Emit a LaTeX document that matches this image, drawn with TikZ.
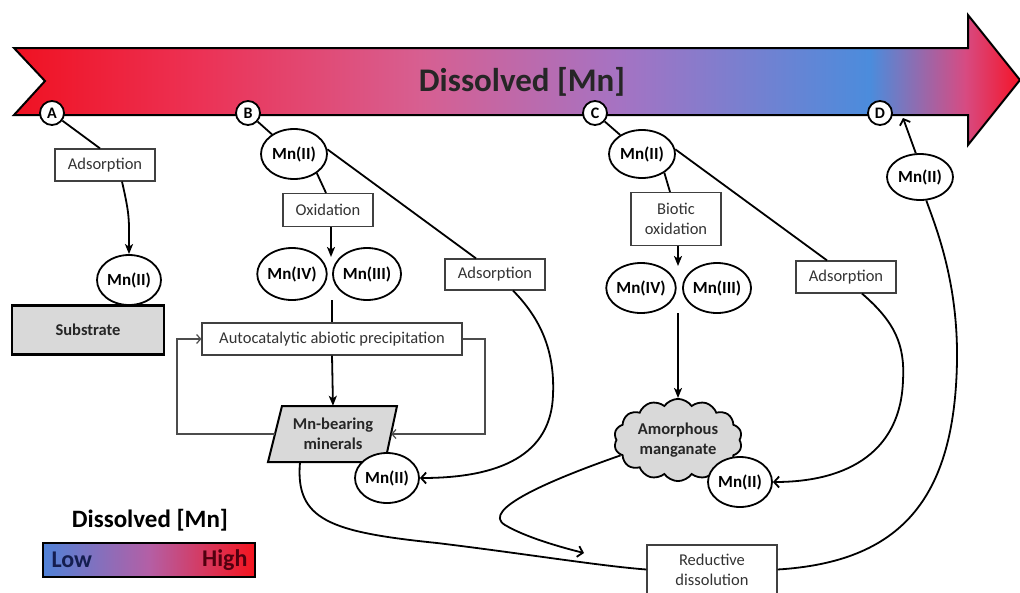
\documentclass[tikz,border=0pt]{standalone}
\usepackage{fontspec}
\setmainfont{Carlito}
\usetikzlibrary{arrows.meta,shapes.geometric,shapes.symbols,calc}
\definecolor{g0}{RGB}{240,15,30}
\definecolor{g1}{RGB}{236,50,85}
\definecolor{g2}{RGB}{215,95,145}
\definecolor{g3}{RGB}{165,115,195}
\definecolor{g4}{RGB}{75,140,220}
\definecolor{g5}{RGB}{215,75,130}
\definecolor{g6}{RGB}{245,20,40}
\definecolor{lb}{RGB}{80,130,215}
\definecolor{lm}{RGB}{180,95,165}
\definecolor{lr}{RGB}{245,20,30}
\definecolor{fillg}{RGB}{217,217,217}
\begin{document}
\begin{tikzpicture}[x=1pt,y=-1pt,
  box/.style={draw=black!75, line width=1.2pt, fill=white, text=black!80, font=\fontsize{16.5}{20}\selectfont, inner sep=2pt, align=center},
  ell/.style={ellipse, draw, line width=1.8pt, fill=white, inner sep=0pt, minimum width=64pt, minimum height=50pt, font=\bfseries\fontsize{17}{19}\selectfont},
  circ/.style={circle, draw, line width=1.8pt, fill=white, minimum size=24pt, inner sep=0pt, font=\bfseries\fontsize{16}{17}\selectfont},
  conn/.style={line width=1.8pt},
  arr/.style={line width=1.8pt, -{Stealth[length=10pt,width=8pt,inset=2.5pt]}},
  barb/.style={line width=1.8pt, -{Straight Barb[length=5pt,width=11pt]}},
  fb/.style={line width=1.2pt, draw=black!70, -{Straight Barb[length=4pt,width=9pt]}},
]
\useasboundingbox (0,0) rectangle (1020,592);

% ---- main gradient arrow ----
\begin{scope}
\clip (14,48) -- (968,48) -- (968,15) -- (1020,80) -- (968,145) -- (968,115) -- (14,115) -- (45,81) -- cycle;
\shade[left color=g0, right color=g1] (0,0) rectangle (200.5,150);
\shade[left color=g1, right color=g2] (200,0) rectangle (420.5,150);
\shade[left color=g2, right color=g3] (420,0) rectangle (620.5,150);
\shade[left color=g3, right color=g4] (620,0) rectangle (870.5,150);
\shade[left color=g4, right color=g5] (870,0) rectangle (965.5,150);
\shade[left color=g5, right color=g6] (965,0) rectangle (1020,150);
\end{scope}
\draw[line width=2pt, line join=miter] (14,48) -- (968,48) -- (968,15) -- (1020,80) -- (968,145) -- (968,115) -- (14,115) -- (45,81) -- cycle;
\node[font=\bfseries\fontsize{33}{36}\selectfont, text=black!85] (title) at (522,82) {Dissolved [Mn]};

% ---- nodes ----
\node[circ] (A) at (52,113) {A};
\node[circ] (B) at (248,113) {B};
\node[circ] (C) at (595,113) {C};
\node[circ] (D) at (880,113) {D};
\coordinate (Dtip) at (903,118);

% column A
\node[box, minimum width=100pt, minimum height=32pt] (adsA) at (105,165) {Adsorption};
\node[ell] (mnA) at (129,280) {Mn(II)};
\node[draw, line width=2.2pt, fill=fillg, minimum width=152pt, minimum height=49pt, font=\bfseries\fontsize{16.5}{20}\selectfont, text=black!85] (sub) at (88,330) {Substrate};

% column B
\node[ell, minimum width=66pt] (mnB) at (294,154) {Mn(II)};
\node[box, minimum width=90pt, minimum height=33pt] (oxB) at (328,210) {Oxidation};
\node[ell, minimum width=60pt, minimum height=52pt] (m4B) at (292,274) {Mn(IV)};
\node[ell, minimum width=64pt, minimum height=52pt] (m3B) at (367,274) {Mn(III)};
\coordinate (jB) at (331,257);
\coordinate (jB2) at (332,300);
\node[box, minimum width=260pt, minimum height=32pt] (auto) at (332,339) {Autocatalytic abiotic precipitation};
\draw[line width=2pt, fill=fillg] (282,406) -- (397,406) -- (385,462) -- (268,462) -- cycle;
\node[minimum width=116pt, minimum height=56pt, inner sep=0pt, align=center, font=\bfseries\fontsize{16.5}{20}\selectfont, text=black!85] (min) at (333,434) {Mn-bearing\\minerals};
\node[box, minimum width=100pt, minimum height=31pt] (adsB) at (495,274.5) {Adsorption};
\node[ell] (mnB2) at (387,478) {Mn(II)};
\coordinate (fbR) at (485,434);
\coordinate (fbL) at (177,339);

% column C
\node[ell, minimum width=66pt, minimum height=48pt] (mnC) at (642,154) {Mn(II)};
\node[box, minimum width=90pt, minimum height=53pt] (bioC) at (676,219) {Biotic\\oxidation};
\node[ell] (m4C) at (641,288) {Mn(IV)};
\node[ell, minimum width=66pt] (m3C) at (717,288) {Mn(III)};
\coordinate (jC) at (678,266);
\coordinate (jC2) at (678,313);
\node[cloud, cloud puffs=14, cloud puff arc=110, aspect=1.6, draw, line width=1.8pt, fill=fillg, minimum width=128pt, minimum height=80pt, inner sep=0pt, align=center, font=\bfseries\fontsize{16.5}{20}\selectfont, text=black!85] (cloud) at (678,440) {Amorphous\\manganate};
\node[box, minimum width=100pt, minimum height=32pt] (adsC) at (846,277) {Adsorption};
\node[ell] (mnC2) at (740,482) {Mn(II)};
\coordinate (cRed) at (584,553);

% reductive dissolution and D
\node[box, minimum width=130pt, minimum height=49pt] (red) at (712,569.5) {Reductive\\dissolution};
\node[ell, minimum width=66pt, minimum height=46pt] (mnD) at (920,177) {Mn(II)};

% ---- connectors ----
\draw[conn] (A) -- ($(adsA.north)+(-5,0)$);
\draw[arr] ($(adsA.south)+(17,0)$) .. controls +(8,35) and +(0,-35) .. (mnA.north);

\draw[conn] (B) -- (mnB);
\draw[conn] (mnB.-40) -- ($(oxB.north)+(-2,0)$);
\draw[arr] ($(oxB.south)+(3,0)$) -- (jB);
\draw[conn] (jB2) -- (auto.north);
\draw[arr] (auto.south) -- (min.north);
\draw[conn] (mnB.8) -- ($(adsB.north)+(-19,0)$);
\draw[barb] ($(adsB.south)+(18,0)$) .. controls (540,318) and (555,350) .. (553,395) .. controls (551,455) and (500,478) .. (mnB2.east);
\draw[fb] (auto.east) -| (fbR) |- (min.east);
\draw[fb] (min.west) -| (fbL) |- (auto.west);
\draw[conn] ($(min.south)+(-33,0)$) .. controls (295,520) and (330,532) .. (437,543) .. controls (520,553) and (600,566) .. (red.west);

\draw[conn] (C) -- (mnC);
\draw[conn] (mnC.-40) -- ($(bioC.north)+(-6,0)$);
\draw[arr] ($(bioC.south)+(2,0)$) -- (jC);
\draw[arr] (jC2) -- (cloud.north);
\draw[conn] (mnC.8) -- ($(adsC.north)+(-19,0)$);
\draw[barb] ($(adsC.south)+(16,0)$) .. controls (895,322) and (905,345) .. (903,380) .. controls (901,450) and (850,482) .. (mnC2.east);
\draw[barb] (cloud.195) .. controls (550,480) and (480,510) .. (505,525) .. controls (525,537) and (560,547) .. (cRed);

\draw[conn] (red.east) .. controls (900,562) and (955,500) .. (957,360) .. controls (958,280) and (935,225) .. (mnD.-75);
\draw[barb] (mnD.100) -- (Dtip);

% ---- legend ----
\node[font=\bfseries\fontsize{25}{28}\selectfont] (legt) at (150,520) {Dissolved [Mn]};
\shade[left color=lb, right color=lm] (43,543) rectangle (149.5,577);
\shade[left color=lm, right color=lr] (149,543) rectangle (255,577);
\draw[line width=2pt] (43,543) rectangle (255,577);
\node[font=\bfseries\fontsize{24}{26}\selectfont, text={rgb,255:red,20;green,30;blue,80}, anchor=west] (low) at (48,560) {Low};
\node[font=\bfseries\fontsize{24}{26}\selectfont, text={rgb,255:red,80;green,0;blue,15}, anchor=east] (high) at (251,560) {High};
\end{tikzpicture}
\end{document}
